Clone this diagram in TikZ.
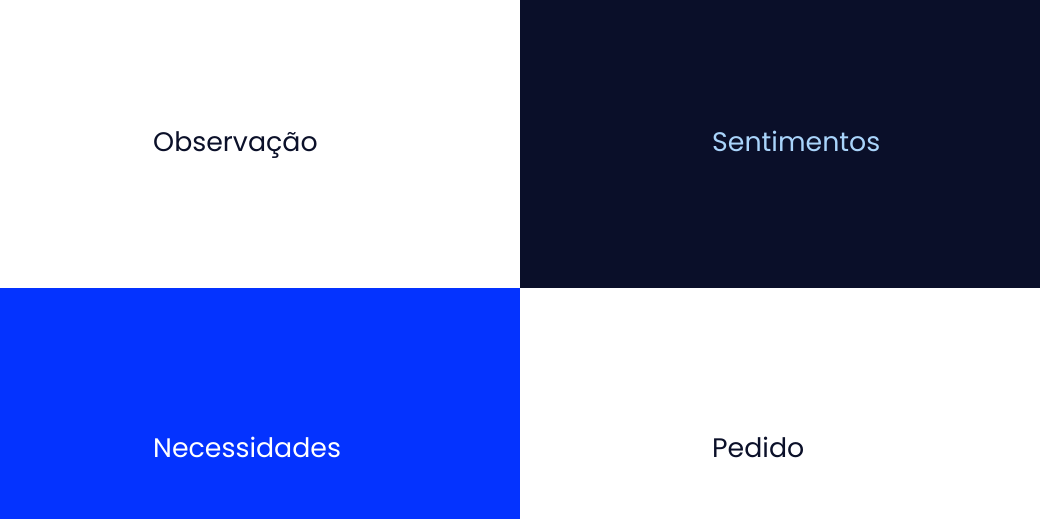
\documentclass[tikz,border=0pt]{standalone}
\usepackage{fontspec}
\setmainfont{Poppins}
\definecolor{navy}{HTML}{0A0F29}
\definecolor{vivid}{HTML}{0433FF}
\definecolor{pale}{HTML}{A9D4FB}
\definecolor{ink}{HTML}{0B1029}
\tikzset{
  quad/.style={draw=none, minimum width=520bp, minimum height=#1, inner sep=0pt, anchor=north west},
  lbl/.style={anchor=base west, inner sep=0pt, font=\fontsize{26.8bp}{30bp}\selectfont}
}
\begin{document}
\begin{tikzpicture}[x=1bp,y=-1bp]
\useasboundingbox (0,0) rectangle (1040,519);
\fill[white] (0,0) rectangle (1040,519);
\node[quad=288bp, fill=white] (q1) at (0,0) {};
\node[quad=288bp, fill=navy] (q2) at (520,0) {};
\node[quad=231bp, fill=vivid] (q3) at (0,288) {};
\node[quad=231bp, fill=white] (q4) at (520,288) {};
\node[lbl, text=ink] (t1) at (153,152) {Observação};
\node[lbl, text=pale] (t2) at (712,152) {Sentimentos};
\node[lbl, text=white] (t3) at (153,457) {Necessidades};
\node[lbl, text=ink] (t4) at (712,457) {Pedido};
\end{tikzpicture}
\end{document}
